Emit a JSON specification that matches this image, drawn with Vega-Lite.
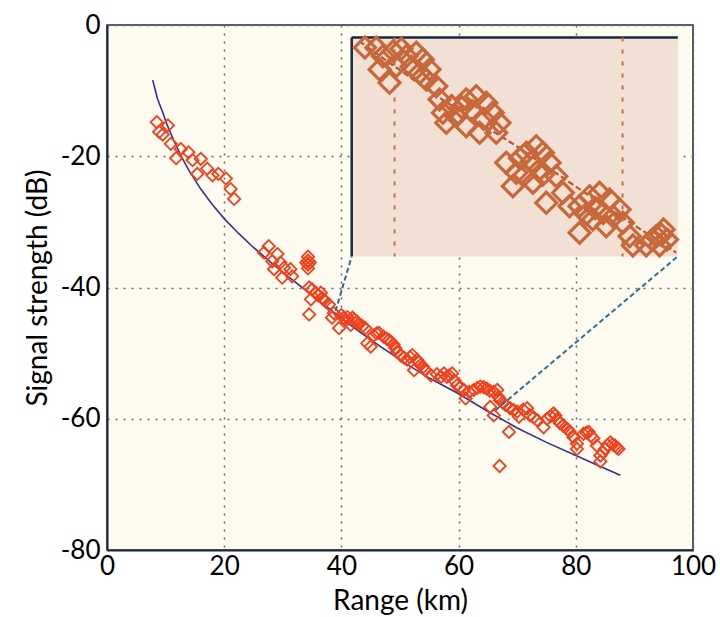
{
  "$schema": "https://vega.github.io/schema/vega-lite/v6.json",
  "width": 586,
  "height": 525,
  "autosize": {"type": "none"},
  "padding": {"left": 107, "top": 25, "right": 27, "bottom": 67},
  "background": "white",
  "config": {
    "view": {"fill": "#fdfaf0", "stroke": "#1c2b3a", "strokeWidth": 1.5},
    "font": "Lato"
  },
  "datasets": {
    "pts": [
      {"x": 8.5, "y": -14.8}, {"x": 10.4, "y": -15.3}, {"x": 8.9, "y": -16.3}, {"x": 9.5, "y": -16.7},
      {"x": 10.9, "y": -18.1}, {"x": 12.6, "y": -18.9}, {"x": 13.9, "y": -19.4}, {"x": 11.8, "y": -20.3},
      {"x": 14.6, "y": -20.6}, {"x": 16.0, "y": -20.4}, {"x": 15.4, "y": -22.7}, {"x": 17.1, "y": -21.9},
      {"x": 18.0, "y": -22.9}, {"x": 19.0, "y": -22.7}, {"x": 20.3, "y": -23.4}, {"x": 21.1, "y": -25.0},
      {"x": 21.7, "y": -26.5},
      {"x": 27.6, "y": -33.7}, {"x": 26.8, "y": -34.7}, {"x": 29.1, "y": -34.9}, {"x": 28.2, "y": -36.0},
      {"x": 29.6, "y": -36.2}, {"x": 28.5, "y": -37.2}, {"x": 30.2, "y": -37.0}, {"x": 31.3, "y": -37.2},
      {"x": 29.9, "y": -38.5}, {"x": 31.6, "y": -38.3},
      {"x": 34.3, "y": -35.3}, {"x": 34.3, "y": -35.9}, {"x": 34.3, "y": -36.5}, {"x": 34.3, "y": -37.1},
      {"x": 34.5, "y": -40.0}, {"x": 34.8, "y": -41.8}, {"x": 35.6, "y": -40.8}, {"x": 36.5, "y": -40.8},
      {"x": 36.7, "y": -41.6}, {"x": 37.3, "y": -42.1}, {"x": 37.9, "y": -42.6}, {"x": 34.5, "y": -44.1},
      {"x": 38.4, "y": -44.6}, {"x": 39.6, "y": -46.2}, {"x": 41.0, "y": -44.5}, {"x": 41.9, "y": -44.6},
      {"x": 42.7, "y": -45.2}, {"x": 43.6, "y": -45.9}, {"x": 41.6, "y": -45.7}, {"x": 38.7, "y": -43.9},
      {"x": 40.4, "y": -44.6}, {"x": 44.1, "y": -46.2}, {"x": 44.4, "y": -48.5}, {"x": 45.0, "y": -49.0},
      {"x": 46.4, "y": -46.9}, {"x": 47.2, "y": -47.5}, {"x": 48.1, "y": -48.0}, {"x": 48.9, "y": -48.7},
      {"x": 49.5, "y": -49.8}, {"x": 50.2, "y": -50.4}, {"x": 51.2, "y": -51.0}, {"x": 52.1, "y": -50.3},
      {"x": 52.9, "y": -51.0}, {"x": 53.5, "y": -51.8}, {"x": 52.4, "y": -52.6}, {"x": 54.3, "y": -52.6},
      {"x": 55.3, "y": -53.4}, {"x": 56.3, "y": -53.2}, {"x": 57.5, "y": -53.1}, {"x": 58.0, "y": -53.6},
      {"x": 58.9, "y": -53.1}, {"x": 59.7, "y": -54.9}, {"x": 60.9, "y": -55.6}, {"x": 61.2, "y": -56.9},
      {"x": 62.6, "y": -55.6}, {"x": 63.7, "y": -55.1}, {"x": 64.8, "y": -55.4}, {"x": 66.0, "y": -55.9},
      {"x": 66.6, "y": -55.6}, {"x": 66.8, "y": -56.7}, {"x": 67.1, "y": -57.2}, {"x": 68.0, "y": -57.9},
      {"x": 68.8, "y": -58.4}, {"x": 70.0, "y": -58.9}, {"x": 71.7, "y": -58.4}, {"x": 72.2, "y": -59.5},
      {"x": 65.4, "y": -58.2}, {"x": 66.0, "y": -59.5}, {"x": 67.0, "y": -67.2}, {"x": 68.6, "y": -62.0},
      {"x": 70.3, "y": -59.7}, {"x": 73.4, "y": -60.2}, {"x": 74.5, "y": -61.3}, {"x": 75.1, "y": -60.0},
      {"x": 76.2, "y": -59.2}, {"x": 76.5, "y": -59.5}, {"x": 77.3, "y": -60.7}, {"x": 78.2, "y": -61.3},
      {"x": 79.0, "y": -62.0}, {"x": 79.6, "y": -62.8}, {"x": 80.2, "y": -63.8}, {"x": 80.2, "y": -64.6},
      {"x": 81.3, "y": -62.3}, {"x": 82.2, "y": -62.0}, {"x": 83.0, "y": -63.0}, {"x": 83.6, "y": -64.1},
      {"x": 84.2, "y": -65.6}, {"x": 84.2, "y": -66.5}, {"x": 85.0, "y": -64.6}, {"x": 85.9, "y": -63.6},
      {"x": 86.7, "y": -64.1}, {"x": 87.3, "y": -64.6},
      {"x": 40.0, "y": -44.2}, {"x": 40.8, "y": -45.0}, {"x": 42.2, "y": -44.9}, {"x": 43.0, "y": -45.6},
      {"x": 45.5, "y": -47.3}, {"x": 46.0, "y": -47.0}, {"x": 47.7, "y": -47.8}, {"x": 48.5, "y": -48.3},
      {"x": 49.2, "y": -49.2}, {"x": 50.7, "y": -50.7}, {"x": 51.7, "y": -50.6}, {"x": 53.2, "y": -51.4},
      {"x": 54.0, "y": -52.1}, {"x": 57.0, "y": -53.6}, {"x": 58.4, "y": -53.4}, {"x": 59.3, "y": -54.2},
      {"x": 60.3, "y": -55.2}, {"x": 61.8, "y": -55.9}, {"x": 63.2, "y": -55.3}, {"x": 64.3, "y": -55.2},
      {"x": 65.3, "y": -55.7}, {"x": 67.5, "y": -57.5}, {"x": 69.4, "y": -58.7}, {"x": 71.0, "y": -58.6},
      {"x": 72.8, "y": -59.8}, {"x": 75.7, "y": -59.6}, {"x": 76.8, "y": -60.1}, {"x": 77.8, "y": -61.0},
      {"x": 78.6, "y": -61.6}, {"x": 81.8, "y": -62.1}, {"x": 82.6, "y": -62.6}, {"x": 84.6, "y": -65.1},
      {"x": 85.4, "y": -64.0}, {"x": 86.3, "y": -63.9}, {"x": 87.0, "y": -64.4}, {"x": 35.0, "y": -40.3},
      {"x": 36.0, "y": -41.2}, {"x": 37.0, "y": -41.9}, {"x": 34.6, "y": -36.2}, {"x": 34.0, "y": -36.2}
    ],
    "curve": [
      {"x": 7.8, "y": -8.4}, {"x": 8.6, "y": -11.2}, {"x": 9.5, "y": -13.3}, {"x": 10.3, "y": -15.3},
      {"x": 11.4, "y": -17.6}, {"x": 12.6, "y": -19.9}, {"x": 14, "y": -22.2}, {"x": 16, "y": -25.0},
      {"x": 18, "y": -27.4}, {"x": 20, "y": -29.5}, {"x": 22.5, "y": -31.8}, {"x": 25, "y": -33.9},
      {"x": 28, "y": -36.2}, {"x": 31, "y": -38.4}, {"x": 35, "y": -41.2}, {"x": 39, "y": -44.0},
      {"x": 43, "y": -46.7}, {"x": 47, "y": -49.2}, {"x": 51, "y": -51.6}, {"x": 55, "y": -53.8},
      {"x": 60, "y": -56.2}, {"x": 65, "y": -58.9}, {"x": 70, "y": -61.4}, {"x": 75, "y": -63.6},
      {"x": 80, "y": -65.6}, {"x": 84, "y": -67.2}, {"x": 87.6, "y": -68.6}
    ],
    "conn": [
      {"x": 39.0, "y": -43.6, "g": "a"}, {"x": 41.76, "y": -35.26, "g": "a"},
      {"x": 66.3, "y": -58.7, "g": "b"}, {"x": 97.4, "y": -35.26, "g": "b"}
    ],
    "insetgrid": [{"x": 40}, {"x": 60}],
    "insetline": [
      {"x": 36.9, "y": -42.4}, {"x": 43.5, "y": -46.6}, {"x": 50.8, "y": -50.7},
      {"x": 57.5, "y": -54.8}, {"x": 64.7, "y": -59.0}
    ],
    "insetpts": [
      {"x": 37.4, "y": -42.9}, {"x": 38.40, "y": -42.92}, {"x": 38.98, "y": -43.58}, {"x": 38.69, "y": -44.62},
      {"x": 39.56, "y": -45.67}, {"x": 40.15, "y": -44.36}, {"x": 41.03, "y": -43.58}, {"x": 41.91, "y": -43.31},
      {"x": 42.48, "y": -43.84}, {"x": 43.07, "y": -44.62}, {"x": 42.78, "y": -45.41}, {"x": 43.66, "y": -45.94},
      {"x": 43.95, "y": -46.98}, {"x": 44.24, "y": -48.03}, {"x": 46.29, "y": -46.98}, {"x": 47.17, "y": -46.72},
      {"x": 48.05, "y": -47.24}, {"x": 48.62, "y": -48.03}, {"x": 49.21, "y": -48.81}, {"x": 45.41, "y": -48.29},
      {"x": 44.54, "y": -48.81}, {"x": 46.29, "y": -49.08}, {"x": 47.46, "y": -49.60}, {"x": 48.92, "y": -49.60},
      {"x": 49.80, "y": -51.95}, {"x": 50.68, "y": -52.74}, {"x": 50.38, "y": -53.79}, {"x": 51.56, "y": -51.17},
      {"x": 52.43, "y": -50.65}, {"x": 53.01, "y": -51.17}, {"x": 53.60, "y": -51.95}, {"x": 52.72, "y": -52.48},
      {"x": 54.19, "y": -53.01}, {"x": 54.77, "y": -54.31}, {"x": 52.14, "y": -53.52}, {"x": 55.35, "y": -55.36},
      {"x": 53.31, "y": -55.10}, {"x": 56.23, "y": -55.36}, {"x": 57.11, "y": -54.58}, {"x": 57.98, "y": -54.31},
      {"x": 58.86, "y": -54.84}, {"x": 59.74, "y": -55.62}, {"x": 57.40, "y": -56.41}, {"x": 58.57, "y": -56.93},
      {"x": 60.03, "y": -56.67}, {"x": 60.62, "y": -57.72}, {"x": 60.91, "y": -58.45}, {"x": 56.23, "y": -57.45},
      {"x": 62.08, "y": -58.45}, {"x": 62.96, "y": -57.72}, {"x": 63.6, "y": -57.19}, {"x": 63.9, "y": -57.98},
      {"x": 63.25, "y": -58.45},
      {"x": 39.9, "y": -43.2}, {"x": 40.6, "y": -43.0}, {"x": 41.5, "y": -44.4}, {"x": 42.2, "y": -44.9},
      {"x": 45.9, "y": -47.6}, {"x": 46.8, "y": -47.9}, {"x": 47.8, "y": -48.5}, {"x": 45.0, "y": -47.5},
      {"x": 51.0, "y": -51.6}, {"x": 52.0, "y": -51.9}, {"x": 53.0, "y": -52.9}, {"x": 51.4, "y": -52.9},
      {"x": 57.6, "y": -55.5}, {"x": 58.3, "y": -55.9}, {"x": 59.2, "y": -56.2}, {"x": 56.8, "y": -56.0},
      {"x": 62.6, "y": -58.0}, {"x": 63.4, "y": -57.6}
    ]
  },
  "layer": [
    {
      "layer": [
        {
          "data": {"name": "curve"},
          "mark": {"type": "line", "color": "#38318c", "strokeWidth": 1.6},
          "encoding": {
            "x": {
              "field": "x", "type": "quantitative", "title": "Range (km)",
              "scale": {"domain": [0, 100], "nice": false, "zero": false},
              "axis": {
                "values": [0, 20, 40, 60, 80, 100], "labelExpr": "'' + datum.value", "grid": true, "gridColor": "#666", "gridDash": [2, 6], "gridWidth": 1.5,
                "domainColor": "#1c2b3a", "domainWidth": 2, "ticks": false,
                "labelFont": "Lato", "labelFontSize": 26, "labelColor": "#000", "labelPadding": 3, "labelFlush": false,
                "titleFont": "Lato", "titleFontSize": 28, "titleFontWeight": "normal", "titleColor": "#000", "titlePadding": 8
              }
            },
            "y": {
              "field": "y", "type": "quantitative", "title": "Signal strength (dB)",
              "scale": {"domain": [-80, 0], "nice": false, "zero": false},
              "axis": {
                "values": [-80, -60, -40, -20, 0], "labelExpr": "'' + datum.value", "grid": true, "gridColor": "#666", "gridDash": [2, 6], "gridWidth": 1.5,
                "domainColor": "#1c2b3a", "domainWidth": 2, "ticks": false,
                "labelFont": "Lato", "labelFontSize": 26, "labelColor": "#000", "labelPadding": 7, "labelFlush": false,
                "titleFont": "Lato", "titleFontSize": 28, "titleFontWeight": "normal", "titleColor": "#000", "titlePadding": 8
              }
            }
          }
        },
        {
          "data": {"name": "pts"},
          "mark": {"type": "point", "shape": "diamond", "size": 150, "filled": false, "stroke": "#f0401c", "strokeWidth": 1.8, "opacity": 1},
          "encoding": {
            "x": {"field": "x", "type": "quantitative", "title": "Range (km)"},
            "y": {"field": "y", "type": "quantitative", "title": "Signal strength (dB)"}
          }
        },
        {
          "data": {"name": "conn"},
          "mark": {"type": "line", "color": "#2f6f95", "strokeWidth": 2, "strokeDash": [5, 3]},
          "encoding": {
            "x": {"field": "x", "type": "quantitative", "title": "Range (km)"},
            "y": {"field": "y", "type": "quantitative", "title": "Signal strength (dB)"},
            "detail": {"field": "g"}
          }
        },
        {
          "data": {"values": [{}]},
          "mark": {"type": "rect", "fill": "#f2e0d4"},
          "encoding": {
            "x": {"datum": 41.76, "type": "quantitative"},
            "x2": {"datum": 97.4},
            "y": {"datum": -1.9, "type": "quantitative"},
            "y2": {"datum": -35.26}
          }
        },
        {
          "data": {"values": [{}]},
          "mark": {"type": "rule", "color": "#13293d", "strokeWidth": 2.5},
          "encoding": {
            "x": {"datum": 41.76, "type": "quantitative"},
            "x2": {"datum": 97.4},
            "y": {"datum": -1.9, "type": "quantitative"}
          }
        },
        {
          "data": {"values": [{}]},
          "mark": {"type": "rule", "color": "#13293d", "strokeWidth": 2.5},
          "encoding": {
            "x": {"datum": 41.76, "type": "quantitative"},
            "y": {"datum": -1.9, "type": "quantitative"},
            "y2": {"datum": -35.26}
          }
        }
      ]
    },
    {
      "layer": [
        {
          "data": {"name": "insetgrid"},
          "mark": {"type": "rule", "color": "#c0703f", "strokeWidth": 2, "strokeDash": [4, 8]},
          "encoding": {
            "x": {"field": "x", "type": "quantitative", "axis": null, "scale": {"domain": [14.78, 66.18], "nice": false, "zero": false}},
            "y": {"datum": -42.11, "type": "quantitative", "axis": null, "scale": {"domain": [-82.37, -41.13], "nice": false, "zero": false}},
            "y2": {"datum": -59.31}
          }
        },
        {
          "data": {"name": "insetline"},
          "mark": {"type": "line", "color": "#b5582c", "strokeWidth": 2.2, "strokeDash": [6, 3]},
          "encoding": {
            "x": {"field": "x", "type": "quantitative", "axis": null},
            "y": {"field": "y", "type": "quantitative", "axis": null}
          }
        },
        {
          "data": {"name": "insetpts"},
          "mark": {"type": "point", "shape": "diamond", "size": 440, "filled": false, "stroke": "#c8683a", "strokeWidth": 3.2, "opacity": 1},
          "encoding": {
            "x": {"field": "x", "type": "quantitative", "axis": null},
            "y": {"field": "y", "type": "quantitative", "axis": null}
          }
        }
      ]
    }
  ],
  "resolve": {"scale": {"x": "independent", "y": "independent"}}
}
